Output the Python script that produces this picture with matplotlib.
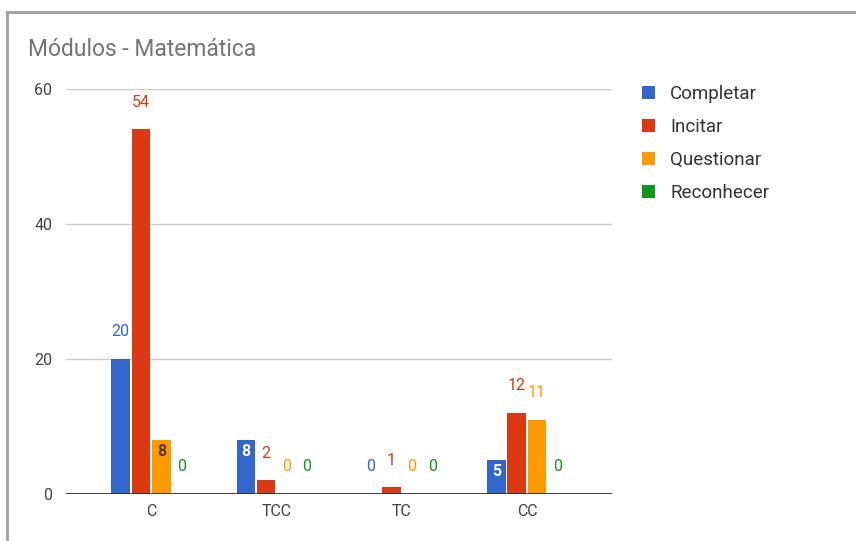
import matplotlib.pyplot as plt
import numpy as np
from matplotlib.lines import Line2D

plt.rcParams['font.family'] = ['Roboto', 'DejaVu Sans']

categories = ['C', 'TCC', 'TC', 'CC']
series_names = ['Completar', 'Incitar', 'Questionar', 'Reconhecer']
completar = [20, 8, 0, 5]
incitar = [54, 2, 1, 12]
questionar = [8, 0, 0, 11]
reconhecer = [0, 0, 0, 0]
y_ticks = [0, 20, 40, 60]

series_values = [completar, incitar, questionar, reconhecer]
colors = ['#3366cc', '#dc3912', '#ff9900', '#109618']
inside_text = ['white', 'white', '#5a3300', 'white']

fig = plt.figure(figsize=(8.56, 5.41), dpi=100, facecolor='white')
ax = fig.add_axes([0.0771, 0.0869, 0.715 - 0.0771, 0.8355 - 0.0869])

# frame around the chart (left and top edges)
fig.add_artist(Line2D([7 / 856, 7 / 856], [0, 1 - 12 / 541], transform=fig.transFigure,
                      color='#9e9e9e', lw=2))
fig.add_artist(Line2D([7 / 856, 1], [1 - 12 / 541, 1 - 12 / 541], transform=fig.transFigure,
                      color='#9e9e9e', lw=2))

x = np.arange(len(categories))
step = 0.163
width = 0.148
offsets = (np.arange(len(series_names)) - 1.5) * step

handles = []
for i, (name, vals) in enumerate(zip(series_names, series_values)):
    bars = ax.bar(x + offsets[i], vals, width=width, color=colors[i], label=name, zorder=3)
    handles.append(bars)
    for xb, v in zip(x + offsets[i], vals):
        label = str(v)
        if len(label) == 1 and v >= 5:
            # short label fits inside the bar
            ax.annotate(label, (xb, v), xytext=(0, -3), textcoords='offset points',
                        ha='center', va='top', fontsize=11.5, fontweight='bold',
                        color=inside_text[i], zorder=4)
        else:
            ax.annotate(label, (xb, v), xytext=(0, 19.5), textcoords='offset points',
                        ha='center', va='center', fontsize=11.5,
                        color=colors[i], zorder=4)

ax.set_xlim(-0.68, 3.68)
ax.set_ylim(0, 60)
ax.set_yticks(y_ticks)
ax.set_xticks(x)
ax.set_xticklabels(categories)
ax.tick_params(axis='both', length=0, labelsize=11.5, colors='#444444')
ax.tick_params(axis='y', pad=10)
ax.tick_params(axis='x', pad=7)
ax.grid(axis='y', color='#cccccc', lw=1, zorder=0)
ax.axhline(0, color='#333333', lw=1.3, zorder=5)
for s in ax.spines.values():
    s.set_visible(False)

fig.text(28 / 856, 1 - 49 / 541, 'Módulos - Matemática', fontsize=16.5,
         color='#757575', ha='left', va='center')

ax.legend(handles=handles, loc='upper left', bbox_to_anchor=(642 / 856, 1 - 85 / 541),
          bbox_transform=fig.transFigure, frameon=False, fontsize=13.5,
          handlelength=0.7, handleheight=0.7, handletextpad=0.8,
          labelspacing=0.8, labelcolor='#333333', borderaxespad=0, borderpad=0)

fig.savefig('out.png', dpi=100, facecolor='white')
